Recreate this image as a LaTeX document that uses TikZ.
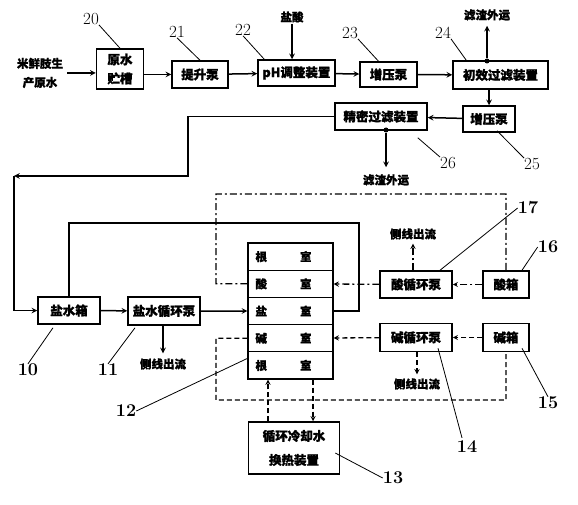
\documentclass[tikz,border=0pt]{standalone}
\usepackage{fontspec}
\newfontfamily\cjk[FakeBold=1.2]{Noto Sans CJK SC}
\usetikzlibrary{positioning}
\tikzset{%
  box/.style = { draw, line width=1.5pt, font=\cjk\bfseries\fontsize{12.5}{19}\selectfont, align=center, inner sep=1pt },
  cell/.style = { draw, line width=1.2pt, font=\cjk\bfseries\fontsize{11.5}{14}\selectfont, minimum height=27.2pt, text width=70pt, inner xsep=7.5pt, inner ysep=0pt, align=left },
  txt/.style = { font=\cjk\bfseries\fontsize{11.5}{19}\selectfont, align=center, inner sep=1pt },
  num/.style = { font=\fontsize{17}{17}\selectfont, inner sep=0pt },
  bnum/.style = { font=\bfseries\fontsize{18}{18}\selectfont, inner sep=0pt },
  flow/.style = { line width=1.5pt, >=stealth, -> },
  pipe/.style = { line width=1.5pt },
  lead/.style = { line width=0.8pt },
  ddot/.style = { line width=1.3pt, dash pattern=on 7pt off 3pt on 2pt off 3pt },
  dsh/.style = { line width=1.3pt, dash pattern=on 5pt off 3pt },
  jdot/.style = { circle, fill, inner sep=0pt, minimum size=5pt }
}
\begin{document}
\begin{tikzpicture}[x=1pt,y=-1pt]

  \useasboundingbox (0,0) rectangle (578,505);

  % Pretreatment line
  \node[txt] (raw) at (40,73) {米鲜肢生\\产原水};
  \node[box, minimum width=47pt, minimum height=40pt] (tank) at (120,69) {原水\\贮槽};
  \node[box, minimum width=56pt, minimum height=27pt] (lift) at (200,74.5) {提升泵};
  \node[box, minimum width=77pt, minimum height=26pt] (ph) at (296.5,73) {pH调整装置};
  \node[box, minimum width=57pt, minimum height=25pt] (boost) at (388.5,74.5) {增压泵};
  \node[box, minimum width=95pt, minimum height=28pt] (pre) at (500.5,75) {初效过滤装置};
  \node[box, minimum width=52pt, minimum height=26pt] (boostb) at (489,119) {增压泵};
  \node[box, minimum width=92pt, minimum height=27pt] (fine) at (381,116.5) {精密过滤装置};

  \node[txt] (hcl) at (292,17) {盐酸};
  \node[txt] (wastea) at (487,15) {滤渣外运};
  \node[txt] (wasteb) at (386,180) {滤渣外运};

  \draw[flow] (raw.east) ++(3,0) -- (tank.west |- 0,73);
  \draw[flow] (tank.east |- lift) -- (lift);
  \draw[flow] (lift) -- (ph);
  \draw[flow] (hcl.south) -- (hcl |- ph.north);
  \draw[flow] (ph) -- (boost);
  \draw[flow] (boost) -- (pre);
  \draw[flow] (pre.south -| boostb) -- (boostb);
  \draw[flow] (boostb) -- (fine);

  \node[jdot] (da) at (487,61) {};
  \draw[flow] (da) -- ([yshift=-4pt]wastea.south);
  \node[jdot] (db) at (386,130) {};
  \draw[flow] (db) -- ([yshift=6pt]wasteb.north);

  \node[num] (n20) at (91,19) {20};
  \node[num] (n21) at (177,32) {21};
  \node[num] (n22) at (243,30) {22};
  \node[num] (n23) at (350,33) {23};
  \node[num] (n24) at (443,33) {24};
  \node[num] (n25) at (532,164) {25};
  \node[num] (n26) at (448,163) {26};
  \draw[lead] (n20.south east) -- (tank.north);
  \draw[lead] (n21.south) -- (lift.north);
  \draw[lead] (n22.south) -- ([xshift=7pt]ph.north west);
  \draw[lead] (n23.south east) -- ([xshift=-10pt]boost.north);
  \draw[lead] (n24.south east) -- ([xshift=14pt]pre.north west);
  \draw[lead] ([shift={(8,-2)}]boostb.south) -- (n25.north west);
  \draw[lead] ([shift={(-10,7)}]fine.south east) -- (n26.north west);

  % Salt circuit
  \node[box, minimum width=62pt, minimum height=27pt] (salttank) at (69,310.5) {盐水箱};
  \node[box, minimum width=72pt, minimum height=28pt] (saltpump) at (164,311) {盐水循环泵};
  \node[txt] (sidea) at (163,364) {侧线出流};
  \draw[flow] (salttank) -- (saltpump);
  \draw[flow] (saltpump.south -| sidea) -- ([yshift=4pt]sidea.north);

  % Feed to salt tank
  \coordinate (ka) at (188,176);
  \coordinate (kb) at (14,176);
  \draw[flow] (fine.west) -| (ka) -- (kb);
  \draw[flow] (kb) |- (salttank.west);

  % Membrane stack
  \foreach \nm/\tx [count=\i] in {polea/根,acid/酸,salt/盐,base/碱,poleb/根} {
    \node[cell] (\nm) at (290.5,{243+27.2*\i-13.6}) {\tx\hspace{33pt}室};
  }
  \draw[flow] (saltpump) -- (salt);
  \coordinate (kc) at (359,223);
  \draw[pipe] (salt.east) -| (kc) -| (salttank.north);

  % Acid circuit
  \node[box, minimum width=72pt, minimum height=27pt] (acidpump) at (416,284.5) {酸循环泵};
  \node[box, minimum width=46pt, minimum height=27pt] (acidtank) at (506,284.5) {酸箱};
  \node[txt] (sideb) at (413,234) {侧线出流};
  \draw[ddot] (acid.west) -- (216,283.8) -- (216,194) -| (acidtank.north);
  \draw[ddot,flow,line width=1.3pt] (acidtank) -- (acidpump);
  \draw[ddot,flow,line width=1.3pt] (acidpump) -- (acid);
  \draw[ddot,flow,line width=1.3pt] (acidpump.north -| sideb) -- ([yshift=-3pt]sideb.south);

  % Base circuit
  \node[box, minimum width=72pt, minimum height=28pt] (basepump) at (416,337.5) {碱循环泵};
  \node[box, minimum width=46pt, minimum height=28pt] (basetank) at (506,337.5) {碱箱};
  \node[txt] (sidec) at (417,384) {侧线出流};
  \draw[dsh] (base.west) -- (216,338.2) -- (216,400) -| (basetank.south);
  \draw[dsh,flow,line width=1.3pt] (basetank) -- (basepump);
  \draw[dsh,flow,line width=1.3pt] (basepump) -- (base);
  \draw[dsh,flow,line width=1.3pt] (basepump.south -| sidec) -- ([yshift=3pt]sidec.north);

  % Cooling
  \node[box, minimum width=91pt, minimum height=52pt, font=\cjk\bfseries\fontsize{12.5}{24}\selectfont] (cool) at (294,448) {循环冷却水\\换热装置};
  \draw[dsh,flow,line width=1.3pt] ([xshift=-26pt]cool.north) -- ([xshift=-22.5pt]poleb.south);
  \draw[dsh,flow,line width=1.3pt] ([xshift=22.5pt]poleb.south) -- ([xshift=19pt]cool.north);

  % Reference numerals
  \node[bnum] (n10) at (28,370) {10};
  \node[bnum] (n11) at (108,370) {11};
  \node[bnum] (n12) at (126,411) {12};
  \node[bnum] (n13) at (393,478) {13};
  \node[bnum] (n14) at (467,447) {14};
  \node[bnum] (n15) at (548,403) {15};
  \node[bnum] (n16) at (548,247) {16};
  \node[bnum] (n17) at (528,208) {17};
  \draw[lead] (n10.north) -- ([shift={(-16,3)}]salttank.south);
  \draw[lead] (n11.north) -- ([shift={(-29,2)}]saltpump.south);
  \draw[lead] (n12.east) -- ([yshift=7pt]poleb.west);
  \draw[lead] (n13.west) -- ([shift={(-5,5)}]cool.east);
  \draw[lead] ([shift={(-5,-3)}]n14.north) -- ([shift={(22,-4)}]basepump.south);
  \draw[lead] (n15.north) -- ([shift={(16,-4)}]basetank.south);
  \draw[lead] (n16.west) -- ([xshift=16pt]acidtank.north);
  \draw[lead] (n17.west) -- ([xshift=24pt]acidpump.north);

\end{tikzpicture}
\end{document}
